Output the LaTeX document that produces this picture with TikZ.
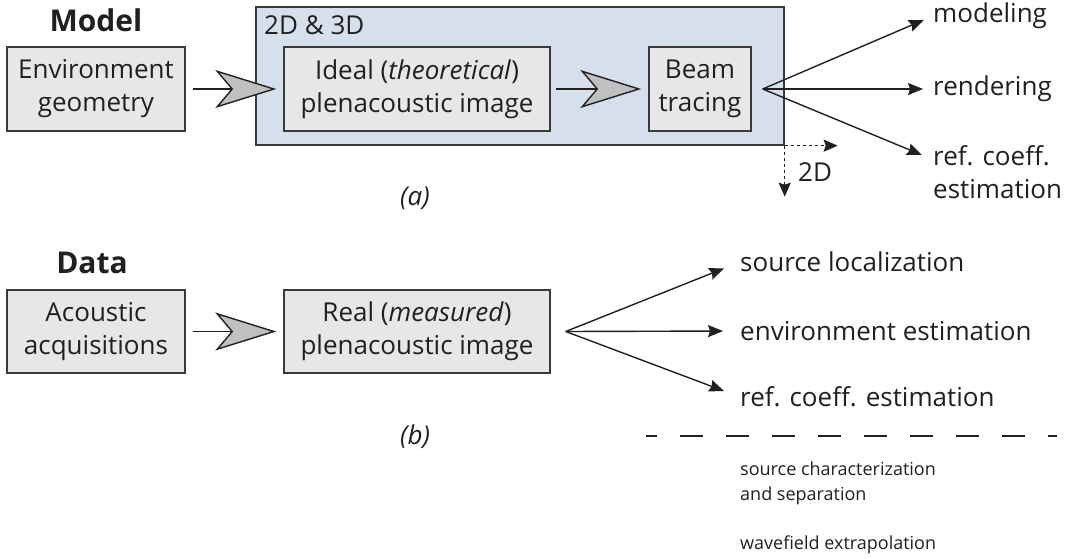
\documentclass[tikz,border=0pt]{standalone}
\usepackage{fontspec}
\setmainfont{Open Sans}
\usetikzlibrary{arrows.meta}
\definecolor{ink}{HTML}{231F20}
\definecolor{boxfill}{HTML}{E6E7E8}
\definecolor{boxline}{HTML}{3A3A3A}
\definecolor{bluefill}{HTML}{D6E0EC}
\definecolor{headfill}{HTML}{BFC0C2}
\tikzset{
  mainfont/.style={font=\fontsize{26}{33}\selectfont, text=ink},
  smallfont/.style={font=\fontsize{18}{25}\selectfont, text=ink},
  procbox/.style={draw=boxline, line width=1.4pt, fill=boxfill, minimum height=84pt,
    inner sep=0pt, align=center, mainfont},
  groupbox/.style={draw=boxline, line width=1.4pt, fill=bluefill, inner sep=0pt},
  bigarrow/.style={draw=ink, line width=1.5pt,
    -{Stealth[length=61pt, width=38pt, inset=16pt, fill=headfill, line width=1.4pt]},
    shorten >=7pt},
  fanarrow/.style={draw=ink, line width=1.4pt, -{Stealth[length=15pt, width=12pt, inset=2pt]}},
  dotarrow/.style={draw=ink, line width=1.4pt, dash pattern=on 3pt off 3pt,
    -{Stealth[length=14pt, width=12pt, inset=2pt]}},
  outtext/.style={mainfont, inner sep=0pt, anchor=west, align=left},
  heading/.style={font=\fontsize{30}{36}\bfseries\selectfont, text=ink, inner sep=0pt},
}
\begin{document}
\begin{tikzpicture}[x=1pt, y=-1pt]
\useasboundingbox (0,0) rectangle (1069,559);

% ---------- (a) model branch ----------
\node[heading, anchor=base] (model) at (96,32) {Model};
\node[procbox, minimum width=178pt] (env) at (96,89) {Environment\\geometry};
\node[groupbox, minimum width=528pt, minimum height=138pt] (group) at (520,76) {};
\node[mainfont, inner sep=0pt, anchor=base west] (dims) at (264,35) {2D \& 3D};
\node[procbox, minimum width=266pt] (ideal) at (417,89) {Ideal (\textit{theoretical})\\plenacoustic image};
\node[procbox, minimum width=102pt] (beam) at (700,89) {Beam\\tracing};

\draw[bigarrow] ([xshift=7pt]env.east) -- (ideal.west);
\draw[bigarrow] ([xshift=5pt]ideal.east) -- (beam.west);

\coordinate (fanA) at ([xshift=11pt]beam.east);
\node[outtext] (modeling) at (933,16) {modeling};
\node[outtext] (rendering) at (933,89) {rendering};
\node[outtext, anchor=base west] (refA) at (933,199) {ref. coeff.\\estimation};
\draw[fanarrow, shorten >=10pt] (fanA) -- (modeling.west);
\draw[fanarrow, shorten >=10pt] (fanA) -- (rendering.west);
\draw[fanarrow] (fanA) -- ([xshift=-11pt,yshift=44pt]refA.base west);

\coordinate (corner) at (group.south east);
\coordinate (rightEnd) at ([xshift=53pt]corner);
\coordinate (downEnd) at ([yshift=-51pt]corner);
\draw[dotarrow] (corner) -- (rightEnd);
\draw[dotarrow] (corner) -- (downEnd);
\node[mainfont, inner sep=0pt, anchor=base west] (twoD) at (798,182) {2D};

\node[mainfont, inner sep=0pt, anchor=base west] (capA) at (400,206) {\textit{(a)}};

% ---------- (b) data branch ----------
\node[heading, anchor=base] (data) at (92,273) {Data};
\node[procbox, minimum width=178pt, minimum height=83pt] (acq) at (96,331.5) {Acoustic\\acquisitions};
\node[procbox, minimum width=266pt, minimum height=83pt] (real) at (417,331.5) {Real (\textit{measured})\\plenacoustic image};

\draw[bigarrow] ([xshift=7pt]acq.east) -- (real.west);

\coordinate (fanB) at ([xshift=15pt]real.east);
\node[outtext] (srcloc) at (740,262) {source localization};
\node[outtext] (envest) at (740,331) {environment estimation};
\node[outtext] (refB) at (740,397) {ref. coeff. estimation};
\draw[fanarrow, shorten >=17pt] (fanB) -- (srcloc.west);
\draw[fanarrow, shorten >=17pt] (fanB) -- (envest.west);
\draw[fanarrow, shorten >=17pt] (fanB) -- (refB.west);

\node[mainfont, inner sep=0pt, anchor=base west] (capB) at (400,444) {\textit{(b)}};

% separator and further applications
\coordinate (sepL) at (646,436);
\coordinate (sepR) at (1057,436);
\draw[ink, line width=2pt, dash pattern=on 23pt off 23pt, dash phase=12pt] (sepL) -- (sepR);

\node[smallfont, inner sep=0pt, anchor=base west, align=left] (charact) at (740,500) {source characterization\\and separation};
\node[smallfont, inner sep=0pt, anchor=base west] (wavefield) at (740,549) {wavefield extrapolation};
\end{tikzpicture}
\end{document}
